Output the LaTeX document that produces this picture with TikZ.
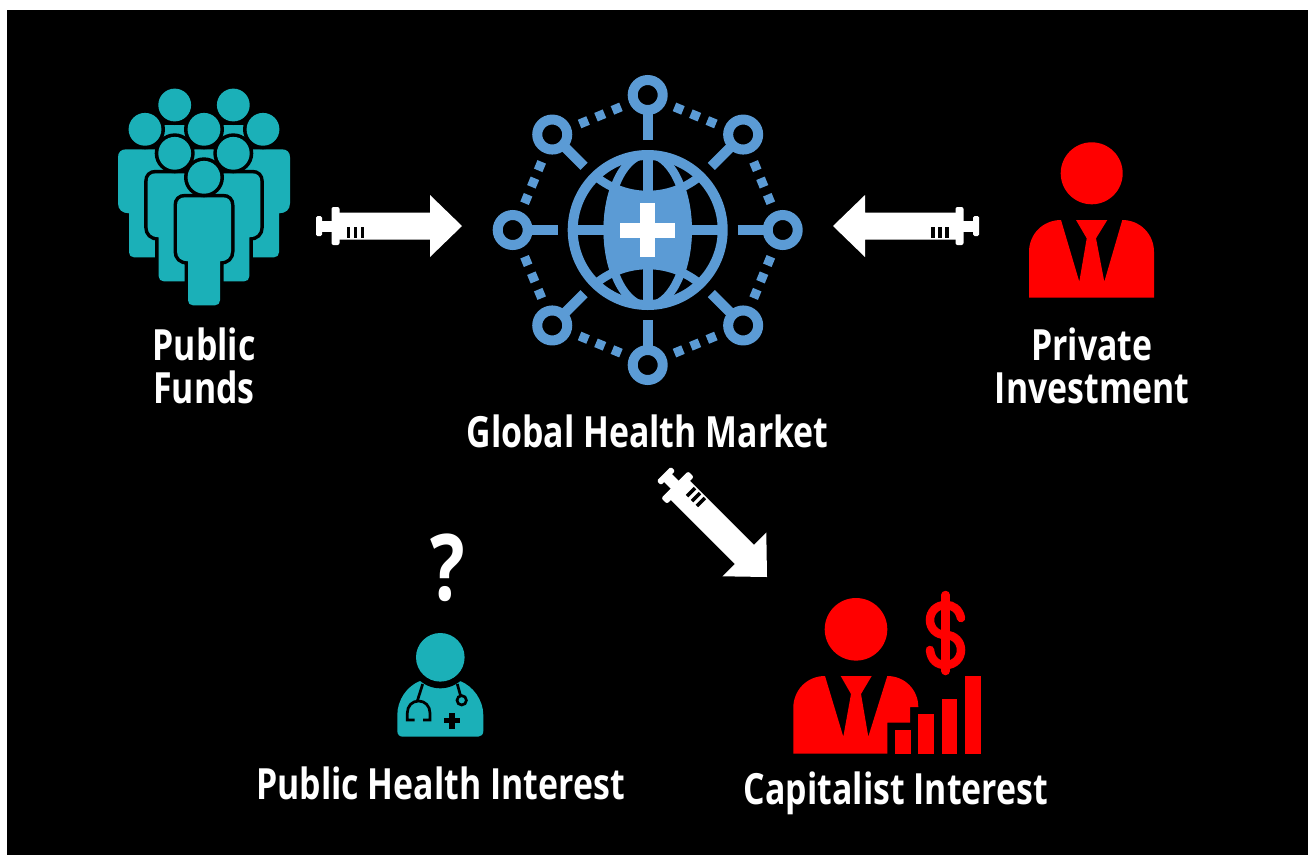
\documentclass[tikz,border=0pt]{standalone}
\usepackage{fontspec}
\newfontfamily\labfont{Open Sans}[FakeStretch=0.787]
\definecolor{tealc}{HTML}{1BB0B8}
\definecolor{bluec}{HTML}{5B9BD5}
\definecolor{redc}{HTML}{FF0000}
\tikzset{
  label text/.style={text=white,font=\labfont\bfseries\fontsize{43}{43}\selectfont,inner sep=0pt,align=center},
  tube/.style={draw=bluec,line width=10pt},
  steth/.style={draw=black,line width=2.7pt},
}
% syringe arrow: tip at the origin, pointing along +x
\newcommand{\syringearrow}{%
  \fill[white,rounded corners=1.5pt] (-146,-10) rectangle (-140,10);
  \fill[white] (-141,-5.5) rectangle (-130,5.5);
  \fill[white,rounded corners=2pt] (-130.5,-19) rectangle (-122.5,19);
  \fill[white] (-123,-13.5) -- (-32,-13.5) -- (-32,-31) -- (0,0) -- (-32,31) -- (-32,13.5) -- (-123,13.5) -- cycle;
  \fill[black] (-115.5,0.7) rectangle (-112,12);
  \fill[black] (-108.5,0.7) rectangle (-105,12);
  \fill[black] (-101.5,0.7) rectangle (-98,12);
}
% crowd figure, head centre at the origin
\newcommand{\crowdbody}{(-27,28) .. controls (-27,23) and (-24,20) .. (-19,20) -- (19,20) .. controls (24,20) and (27,23) .. (27,28) -- (27,74) .. controls (27,80) and (23,84) .. (16,84) -- (16,123) .. controls (16,126) and (14,128) .. (11,128) -- (-11,128) .. controls (-14,128) and (-16,126) .. (-16,123) -- (-16,84) .. controls (-23,84) and (-27,80) .. (-27,74) -- cycle}
\newcommand{\crowdfig}[2]{%
  \begin{scope}[shift={(#1,#2)}]
    \path[fill=black,draw=black,line width=7pt] \crowdbody;
    \path[fill=tealc] \crowdbody;
    \path[fill=black] (0,0) circle[radius=20];
    \path[fill=tealc] (0,0) circle[radius=16.4];
  \end{scope}%
}
\begin{document}
\begin{tikzpicture}[x=1pt,y=-1pt]
\useasboundingbox (0,0) rectangle (1309,855);
\fill[white] (0,0) rectangle (1309,855);
\fill[black] (7,10) rectangle (1307.5,855);

% named anchors
\coordinate (tipA) at (462,226);
\coordinate (tipB) at (833,226);
\coordinate (tipC) at (767,577);
\coordinate (globe) at (647.7,230);

% crowd
\crowdfig{174.7}{105}\crowdfig{233.3}{105}
\crowdfig{145}{129.3}\crowdfig{204}{129.3}\crowdfig{263}{129.3}
\crowdfig{174.7}{153.3}\crowdfig{233.3}{153.3}
\crowdfig{204}{177.3}

% arrows
\begin{scope}[shift={(tipA)}]\syringearrow\end{scope}
\begin{scope}[shift={(tipB)},xscale=-1]\syringearrow\end{scope}
\begin{scope}[shift={(tipC)},rotate=-45,yscale=-1]\syringearrow\end{scope}

% globe
\begin{scope}[shift={(globe)}]
  \begin{scope}
    \clip (0,0) circle[radius=75];
    \begin{scope}
      \clip (0,0) ellipse[x radius=44,y radius=78];
      \fill[bluec] (-50,-37) rectangle (50,37);
    \end{scope}
    \draw[bluec,line width=8.5pt] (0,0) ellipse[x radius=40,y radius=76];
    \draw[bluec,line width=8.5pt] (0,-117) circle[radius=82];
    \draw[bluec,line width=8.5pt] (0,117) circle[radius=82];
    \draw[bluec,line width=10pt] (-80,0) -- (80,0);
    \draw[bluec,line width=10pt] (0,-80) -- (0,80);
  \end{scope}
  \draw[bluec,line width=10pt] (0,0) circle[radius=75];
  \fill[white] (-27.7,-7.5) rectangle (27.7,7.5);
  \fill[white] (-7.5,-27) rectangle (7.5,27);
  % spokes and rings
  \foreach \a in {0,45,...,315}{
    \begin{scope}[rotate=\a]
      \draw[tube] (0,-90) -- (0,-120);
      \draw[tube] (0,-135) circle[radius=15];
    \end{scope}
    \begin{scope}[rotate=\a+22.5]
      \foreach \d in {-17.8,0,17.8}
        \fill[bluec] (\d-4.6,-128.6) rectangle (\d+4.6,-119.4);
    \end{scope}
  }
\end{scope}

% private investor
\fill[redc] (1091.7,173.3) circle[radius=31];
\fill[redc] (1029,297.7) -- (1029,252) .. controls (1029,234) and (1043,220) .. (1061,220) -- (1079.3,281.7) -- (1086.7,238.3) -- (1076,220) -- (1107.3,220) -- (1096,238.3) -- (1104.3,281.7) -- (1122.3,220) .. controls (1140,220) and (1154,234) .. (1154,252) -- (1154,297.7) -- cycle;

% capitalist
\fill[redc] (856,629.3) circle[radius=31.3];
\fill[redc] (793.3,753.7) -- (793.3,708) .. controls (793.3,690) and (807,676) .. (825,676) -- (843.3,736.7) -- (851,694) -- (840.7,676) -- (871.7,676) -- (861,694) -- (868.3,736.7) -- (887.3,676) .. controls (905,676) and (918.3,690) .. (918.3,707) -- (910,707) -- (910,722.7) -- (887.3,722.7) -- (887.3,753.7) -- cycle;
\fill[redc] (895,730) rectangle (910.7,753.7);
\fill[redc] (918.3,714.3) rectangle (934,753.7);
\fill[redc] (941.7,699.3) rectangle (957.3,753.7);
\fill[redc] (965,676) rectangle (980.7,753.7);
\draw[redc,line width=8.5pt,line cap=round] (945.7,595) -- (945.7,671);
\draw[redc,line width=8.5pt,line cap=round] (961,618) .. controls (959,609) and (953,605) .. (945.7,605) .. controls (936,605) and (930,612) .. (930,620) .. controls (930,628) and (936,635) .. (945.7,635) .. controls (955,635) and (961,642) .. (961,650) .. controls (961,658) and (955,665) .. (945.7,665) .. controls (937,665) and (931,660) .. (930,650);

% doctor
\fill[tealc] (397.3,715) .. controls (397.3,700) and (407,686) .. (420,681) -- (460,681) .. controls (473,686) and (483.3,700) .. (483.3,715) -- (483.3,731) .. controls (483.3,734.5) and (481,736.7) .. (478,736.7) -- (403,736.7) .. controls (399.5,736.7) and (397.3,734.5) .. (397.3,731) -- cycle;
\fill[black] (440.3,657.3) circle[radius=31];
\fill[tealc] (440.3,657.3) circle[radius=24.3];
\draw[steth] (422.7,684) -- (417.3,701);
\draw[steth] (414.5,720) -- (407.3,720) -- (407.3,713) .. controls (407.3,706) and (412,701) .. (418.7,701) .. controls (425,701) and (430,706) .. (430,713) -- (430,720) -- (423,720);
\draw[steth] (457.3,684) -- (460.5,695.5);
\draw[steth] (461.7,700.3) circle[radius=4.7];
\fill[black] (443.8,718) rectangle (460.2,723.4);
\fill[black] (449.3,712.5) rectangle (454.7,728.9);

% labels
\node[label text,anchor=base] (qmark) at (448,600) {\fontsize{92}{92}\selectfont ?};
\node[label text] (funds) at (204,366) {Public\\Funds};
\node[label text] (private) at (1092,366) {Private\\Investment};
\node[label text,anchor=base] (market) at (647.5,447) {Global Health Market};
\node[label text,anchor=base] (phi) at (440.5,799) {Public Health Interest};
\node[label text,anchor=base] (capi) at (896,804) {Capitalist Interest};
\end{tikzpicture}
\end{document}
